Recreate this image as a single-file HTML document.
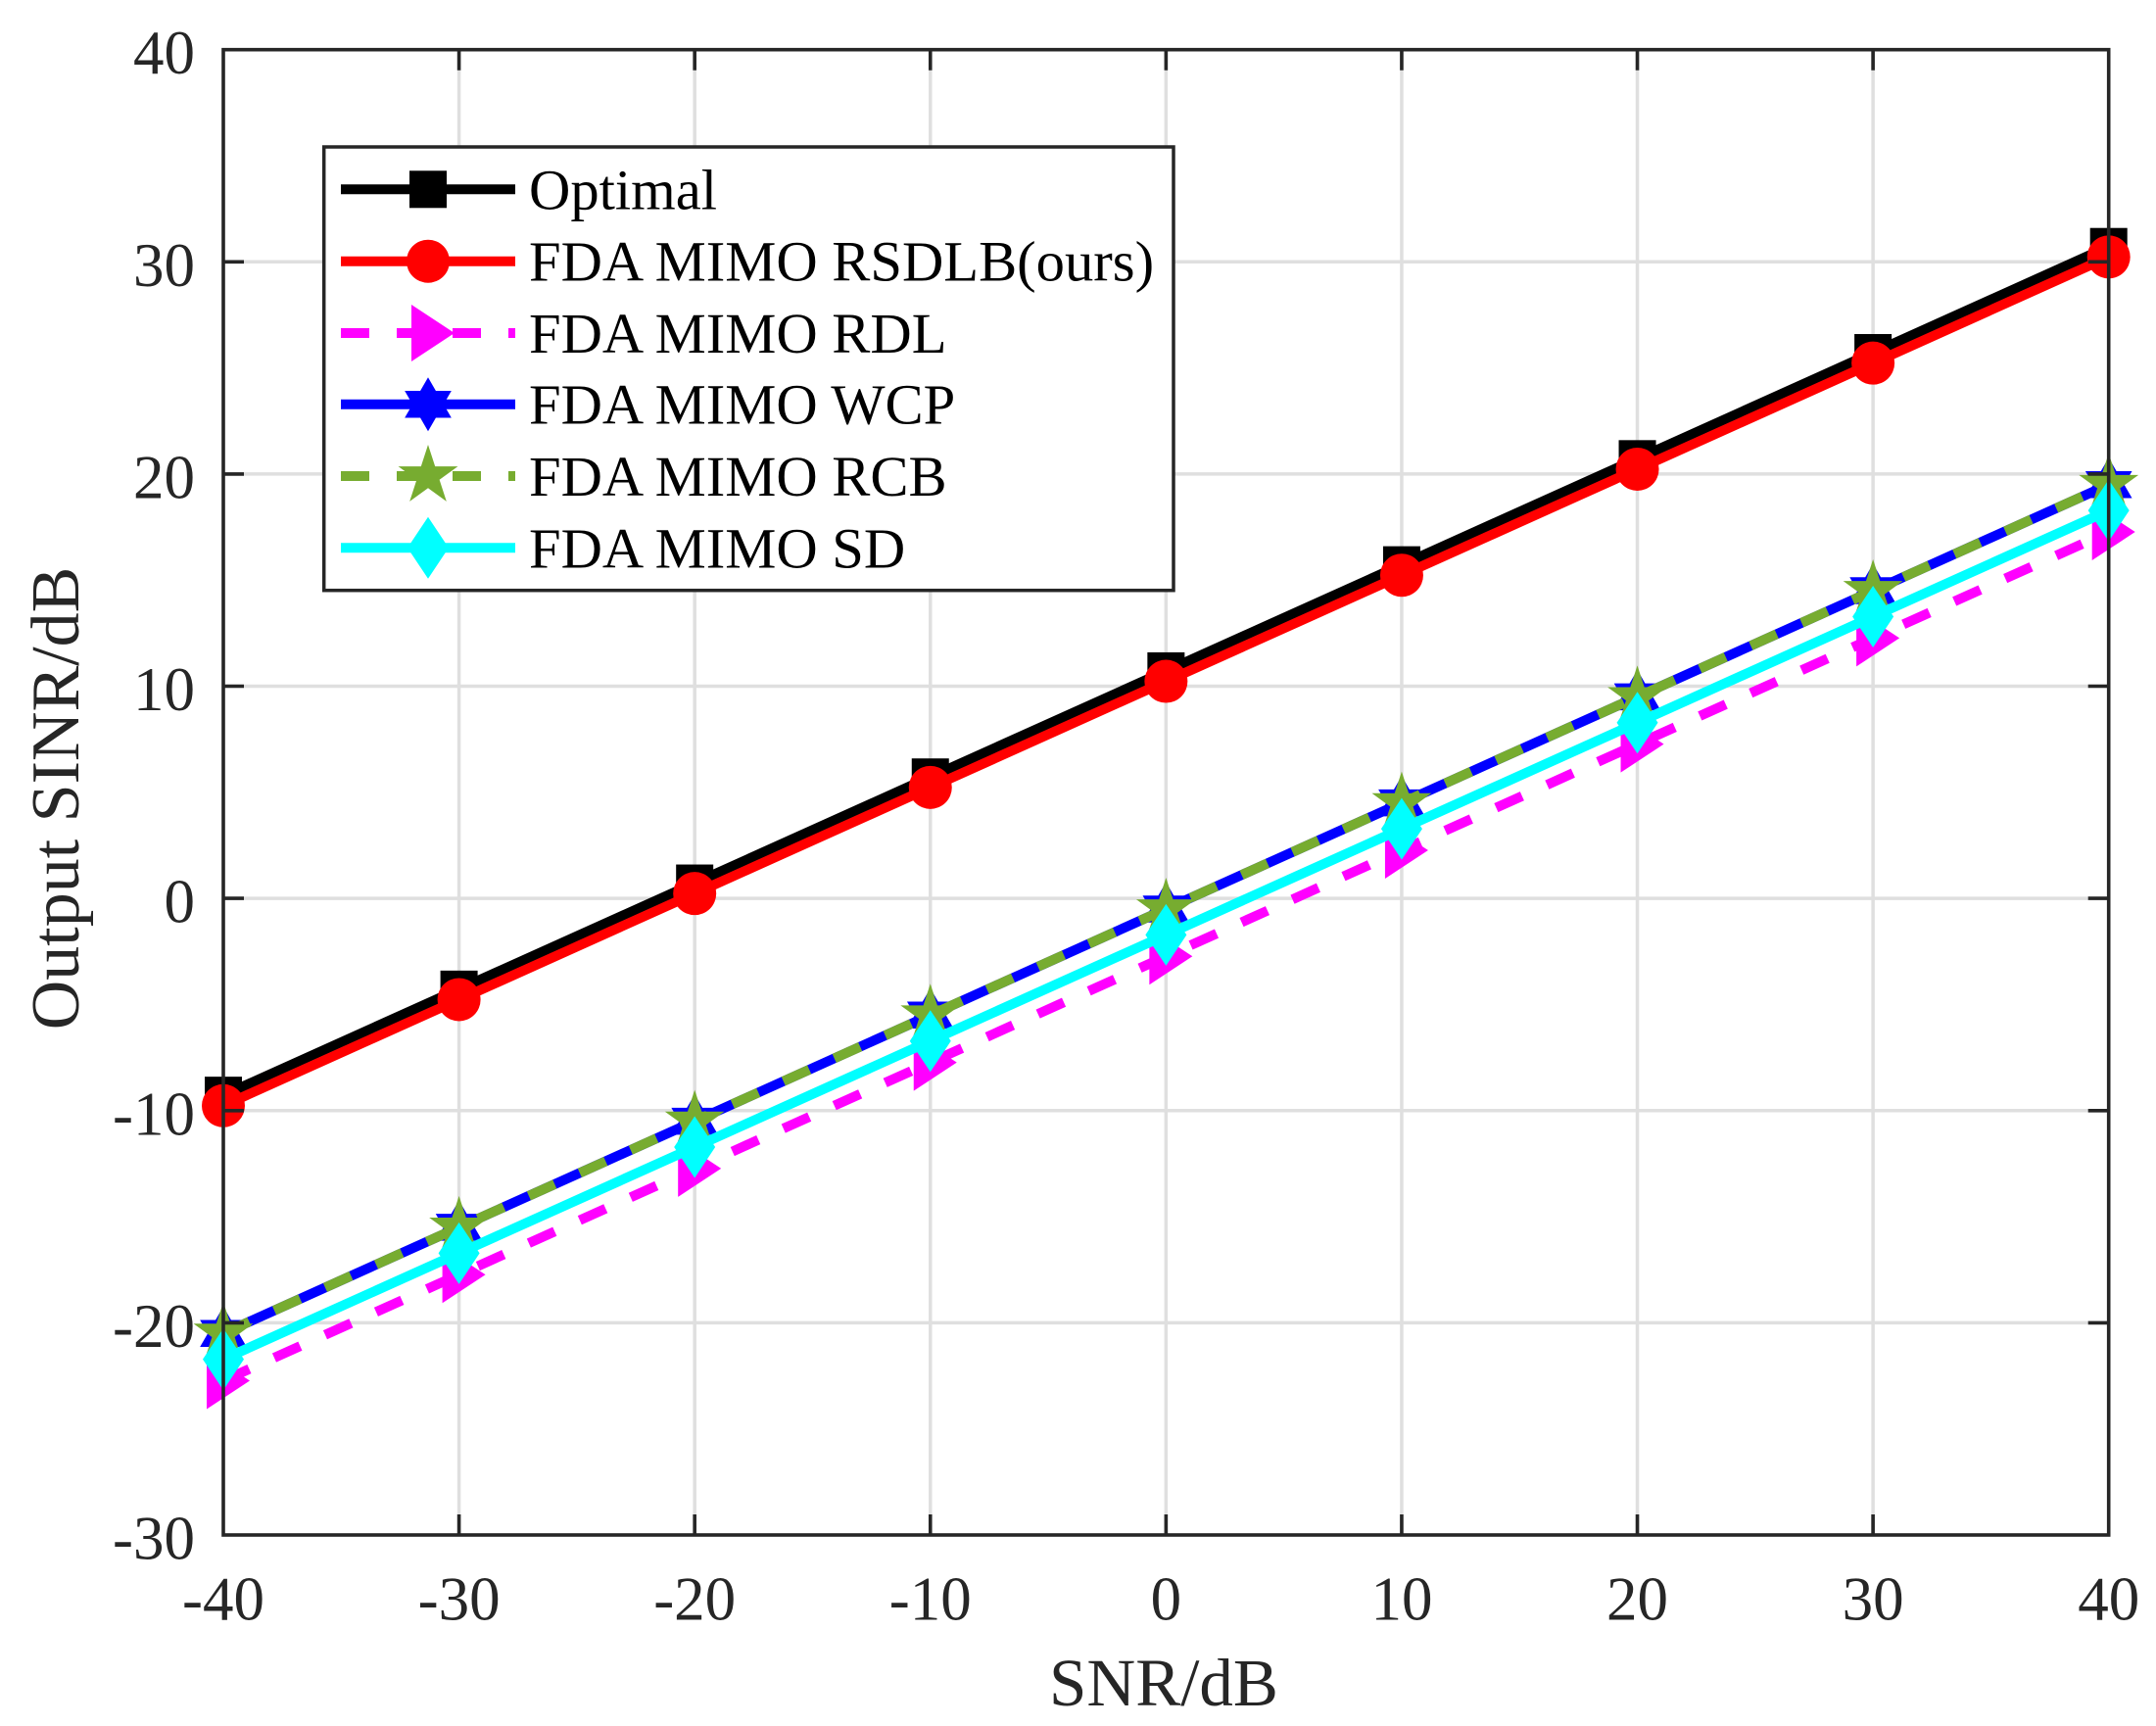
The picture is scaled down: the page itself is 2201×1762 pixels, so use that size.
<!DOCTYPE html>
<html>
<head>
<meta charset="utf-8">
<style>
  html, body { margin: 0; padding: 0; background: #ffffff; }
  svg { display: block; }
  text { font-family: "Liberation Serif", "Times New Roman", serif; }
</style>
</head>
<body>
<svg width="2201" height="1762" viewBox="0 0 2201 1762" xmlns="http://www.w3.org/2000/svg">
  <defs>
    <rect id="sq" x="-19" y="-19" width="38" height="38"/>
    <circle id="circ" cx="0" cy="0" r="22"/>
    <polygon id="tri" points="-17,-29 27,0 -17,29"/>
    <polygon id="hex" points="0,-27.5 7.94,-13.75 23.82,-13.75 15.88,0 23.82,13.75 7.94,13.75 0,27.5 -7.94,13.75 -23.82,13.75 -15.88,0 -23.82,-13.75 -7.94,-13.75"/>
    <polygon id="pent" points="0,-32 7.18,-9.89 30.43,-9.89 11.62,3.78 18.81,25.89 0,12.22 -18.81,25.89 -11.62,3.78 -30.43,-9.89 -7.18,-9.89"/>
    <polygon id="dia" points="0,-31.5 21,0 0,31.5 -21,0"/>
  </defs>

  <rect x="0" y="0" width="2201" height="1762" fill="#ffffff"/>

  <!-- grid -->
  <g stroke="#dfdfdf" stroke-width="3.5" fill="none">
    <line x1="468.59" y1="50.7" x2="468.59" y2="1567"/>
    <line x1="709.18" y1="50.7" x2="709.18" y2="1567"/>
    <line x1="949.76" y1="50.7" x2="949.76" y2="1567"/>
    <line x1="1190.35" y1="50.7" x2="1190.35" y2="1567"/>
    <line x1="1430.94" y1="50.7" x2="1430.94" y2="1567"/>
    <line x1="1671.53" y1="50.7" x2="1671.53" y2="1567"/>
    <line x1="1912.12" y1="50.7" x2="1912.12" y2="1567"/>
    <line x1="228" y1="267.3" x2="2152.7" y2="267.3"/>
    <line x1="228" y1="483.9" x2="2152.7" y2="483.9"/>
    <line x1="228" y1="700.5" x2="2152.7" y2="700.5"/>
    <line x1="228" y1="917.1" x2="2152.7" y2="917.1"/>
    <line x1="228" y1="1133.8" x2="2152.7" y2="1133.8"/>
    <line x1="228" y1="1350.4" x2="2152.7" y2="1350.4"/>
  </g>

  <!-- Optimal -->
  <polyline fill="none" stroke="#000000" stroke-width="10" stroke-linejoin="round"
    points="228,1118.15 468.59,1009.85 709.18,901.54 949.76,793.24 1190.35,684.93 1430.94,576.63 1671.53,468.32 1912.12,360.02 2152.7,251.71"/>
  <g fill="#000000">
    <use href="#sq" x="228" y="1118.15"/><use href="#sq" x="468.59" y="1009.85"/><use href="#sq" x="709.18" y="901.54"/>
    <use href="#sq" x="949.76" y="793.24"/><use href="#sq" x="1190.35" y="684.93"/><use href="#sq" x="1430.94" y="576.63"/>
    <use href="#sq" x="1671.53" y="468.32"/><use href="#sq" x="1912.12" y="360.02"/><use href="#sq" x="2152.7" y="251.71"/>
  </g>

  <!-- RSDLB -->
  <polyline fill="none" stroke="#ff0000" stroke-width="10" stroke-linejoin="round"
    points="228,1128.77 468.59,1020.47 709.18,912.16 949.76,803.86 1190.35,695.55 1430.94,587.25 1671.53,478.94 1912.12,370.64 2152.7,262.33"/>
  <g fill="#ff0000">
    <use href="#circ" x="228" y="1128.77"/><use href="#circ" x="468.59" y="1020.47"/><use href="#circ" x="709.18" y="912.16"/>
    <use href="#circ" x="949.76" y="803.86"/><use href="#circ" x="1190.35" y="695.55"/><use href="#circ" x="1430.94" y="587.25"/>
    <use href="#circ" x="1671.53" y="478.94"/><use href="#circ" x="1912.12" y="370.64"/><use href="#circ" x="2152.7" y="262.33"/>
  </g>

  <!-- RDL -->
  <polyline fill="none" stroke="#ff00ff" stroke-width="10" stroke-dasharray="29 28" stroke-linecap="butt"
    points="228,1409.49 468.59,1301.19 709.18,1192.88 949.76,1084.58 1190.35,976.27 1430.94,867.97 1671.53,759.66 1912.12,651.36 2152.7,543.05"/>
  <g fill="#ff00ff">
    <use href="#tri" x="228" y="1409.49"/><use href="#tri" x="468.59" y="1301.19"/><use href="#tri" x="709.18" y="1192.88"/>
    <use href="#tri" x="949.76" y="1084.58"/><use href="#tri" x="1190.35" y="976.27"/><use href="#tri" x="1430.94" y="867.97"/>
    <use href="#tri" x="1671.53" y="759.66"/><use href="#tri" x="1912.12" y="651.36"/><use href="#tri" x="2152.7" y="543.05"/>
  </g>

  <!-- WCP -->
  <polyline fill="none" stroke="#0000ff" stroke-width="10" stroke-linejoin="round"
    points="228,1361.19 468.59,1252.89 709.18,1144.58 949.76,1036.28 1190.35,927.97 1430.94,819.67 1671.53,711.36 1912.12,603.06 2152.7,494.75"/>
  <g fill="#0000ff">
    <use href="#hex" x="228" y="1361.19"/><use href="#hex" x="468.59" y="1252.89"/><use href="#hex" x="709.18" y="1144.58"/>
    <use href="#hex" x="949.76" y="1036.28"/><use href="#hex" x="1190.35" y="927.97"/><use href="#hex" x="1430.94" y="819.67"/>
    <use href="#hex" x="1671.53" y="711.36"/><use href="#hex" x="1912.12" y="603.06"/><use href="#hex" x="2152.7" y="494.75"/>
  </g>

  <!-- RCB -->
  <polyline fill="none" stroke="#77ac30" stroke-width="10" stroke-dasharray="29 28" stroke-linecap="butt"
    points="228,1361.19 468.59,1252.89 709.18,1144.58 949.76,1036.28 1190.35,927.97 1430.94,819.67 1671.53,711.36 1912.12,603.06 2152.7,494.75"/>
  <g fill="#77ac30">
    <use href="#pent" x="228" y="1361.19"/><use href="#pent" x="468.59" y="1252.89"/><use href="#pent" x="709.18" y="1144.58"/>
    <use href="#pent" x="949.76" y="1036.28"/><use href="#pent" x="1190.35" y="927.97"/><use href="#pent" x="1430.94" y="819.67"/>
    <use href="#pent" x="1671.53" y="711.36"/><use href="#pent" x="1912.12" y="603.06"/><use href="#pent" x="2152.7" y="494.75"/>
  </g>

  <!-- SD -->
  <polyline fill="none" stroke="#00ffff" stroke-width="10" stroke-linejoin="round"
    points="228,1387.62 468.59,1279.32 709.18,1171.01 949.76,1062.71 1190.35,954.40 1430.94,846.10 1671.53,737.79 1912.12,629.49 2152.7,521.18"/>
  <g fill="#00ffff">
    <use href="#dia" x="228" y="1387.62"/><use href="#dia" x="468.59" y="1279.32"/><use href="#dia" x="709.18" y="1171.01"/>
    <use href="#dia" x="949.76" y="1062.71"/><use href="#dia" x="1190.35" y="954.40"/><use href="#dia" x="1430.94" y="846.10"/>
    <use href="#dia" x="1671.53" y="737.79"/><use href="#dia" x="1912.12" y="629.49"/><use href="#dia" x="2152.7" y="521.18"/>
  </g>

  <!-- axes box and ticks -->
  <g stroke="#262626" stroke-width="3.6" fill="none">
    <rect x="228" y="50.7" width="1924.7" height="1516.3"/>
    <path d="M468.59,1567v-21 M709.18,1567v-21 M949.76,1567v-21 M1190.35,1567v-21 M1430.94,1567v-21 M1671.53,1567v-21 M1912.12,1567v-21"/>
    <path d="M468.59,50.7v21 M709.18,50.7v21 M949.76,50.7v21 M1190.35,50.7v21 M1430.94,50.7v21 M1671.53,50.7v21 M1912.12,50.7v21"/>
    <path d="M228,267.3h21 M228,483.9h21 M228,700.5h21 M228,917.1h21 M228,1133.8h21 M228,1350.4h21"/>
    <path d="M2152.7,267.3h-21 M2152.7,483.9h-21 M2152.7,700.5h-21 M2152.7,917.1h-21 M2152.7,1133.8h-21 M2152.7,1350.4h-21"/>
  </g>

  <!-- y tick labels -->
  <g fill="#262626" font-size="63" text-anchor="end">
    <text x="199" y="75.2">40</text>
    <text x="199" y="291.8">30</text>
    <text x="199" y="508.4">20</text>
    <text x="199" y="725">10</text>
    <text x="199" y="941.6">0</text>
    <text x="199" y="1158.3">-10</text>
    <text x="199" y="1374.9">-20</text>
    <text x="199" y="1591.5">-30</text>
  </g>

  <!-- x tick labels -->
  <g fill="#262626" font-size="63" text-anchor="middle">
    <text x="228" y="1653.3">-40</text>
    <text x="468.59" y="1653.3">-30</text>
    <text x="709.18" y="1653.3">-20</text>
    <text x="949.76" y="1653.3">-10</text>
    <text x="1190.35" y="1653.3">0</text>
    <text x="1430.94" y="1653.3">10</text>
    <text x="1671.53" y="1653.3">20</text>
    <text x="1912.12" y="1653.3">30</text>
    <text x="2152.7" y="1653.3">40</text>
  </g>

  <!-- axis labels -->
  <text x="1188" y="1741" font-size="69" fill="#262626" text-anchor="middle">SNR/dB</text>
  <text transform="translate(80,815) rotate(-90)" font-size="70" fill="#262626" text-anchor="middle">Output SINR/dB</text>

  <!-- legend -->
  <rect x="330.7" y="150" width="867.3" height="452.7" fill="#ffffff" stroke="#262626" stroke-width="3.5"/>
  <g stroke-width="10" fill="none" stroke-linecap="butt">
    <line x1="348" y1="193.3" x2="526" y2="193.3" stroke="#000000"/>
    <line x1="348" y1="266.7" x2="526" y2="266.7" stroke="#ff0000"/>
    <line x1="348" y1="340" x2="526" y2="340" stroke="#ff00ff" stroke-dasharray="29 28"/>
    <line x1="348" y1="412.7" x2="526" y2="412.7" stroke="#0000ff"/>
    <line x1="348" y1="486" x2="526" y2="486" stroke="#77ac30" stroke-dasharray="29 28"/>
    <line x1="348" y1="559.3" x2="526" y2="559.3" stroke="#00ffff"/>
  </g>
  <use href="#sq" x="437" y="193.3" fill="#000000"/>
  <use href="#circ" x="437" y="266.7" fill="#ff0000"/>
  <use href="#tri" x="437" y="340" fill="#ff00ff"/>
  <use href="#hex" x="437" y="412.7" fill="#0000ff"/>
  <use href="#pent" x="437" y="486" fill="#77ac30"/>
  <use href="#dia" x="437" y="559.3" fill="#00ffff"/>
  <g fill="#000000" font-size="58.6">
    <text x="540" y="213.3">Optimal</text>
    <text x="540" y="286.7">FDA MIMO RSDLB(ours)</text>
    <text x="540" y="360">FDA MIMO RDL</text>
    <text x="540" y="432.7">FDA MIMO WCP</text>
    <text x="540" y="506">FDA MIMO RCB</text>
    <text x="540" y="579.3">FDA MIMO SD</text>
  </g>
</svg>
</body>
</html>
